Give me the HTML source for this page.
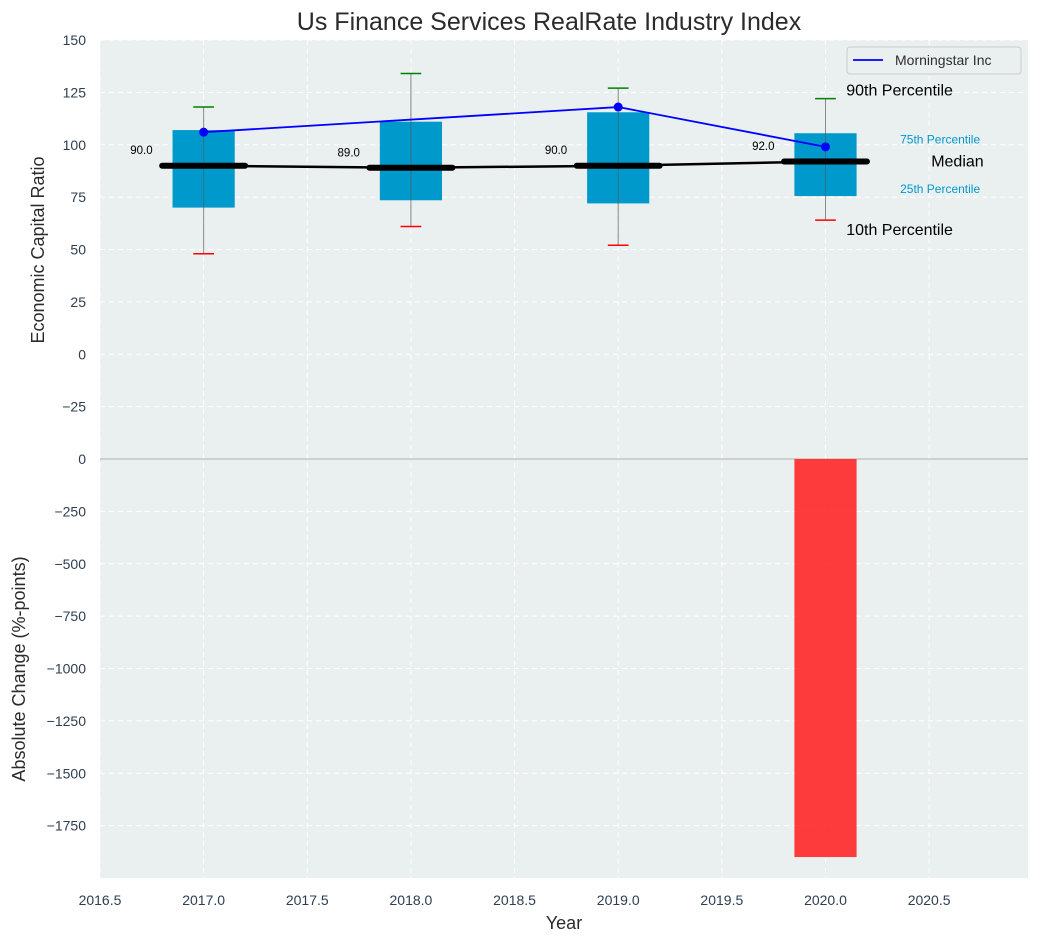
<!DOCTYPE html>
<html><head><meta charset="utf-8"><style>
body{margin:0;background:#fff;}
svg{display:block;font-family:"Liberation Sans","DejaVu Sans",sans-serif;}
</style></head><body>
<svg id="c" width="1039" height="942" xmlns="http://www.w3.org/2000/svg"></svg>
<script>
const years=[2017,2018,2019,2020];
const q25=[70,73.5,72,75.5];
const q75=[107,111,115.5,105.5];
const p10=[48,61,52,64];
const p90=[118,134,127,122];
const medians=[90,89,90,92];
const companyYears=[2017,2019,2020];
const companyVals=[106,118,99];
const changeYears=[2020];
const changeVals=[-1900];
const topTicks=[150,125,100,75,50,25,0,-25];
const botTicks=[0,-250,-500,-750,-1000,-1250,-1500,-1750];
const xTicks=[2016.5,2017,2017.5,2018,2018.5,2019,2019.5,2020,2020.5];

const NS="http://www.w3.org/2000/svg";
const svg=document.getElementById('c');
const L=100,R=1028,T=40,M=459,B=878;
const X=v=>L+(v-2016.5)/(2020.977-2016.5)*(R-L);
const Y1=v=>T+(150-v)/200*(M-T);
const Y2=v=>M+(0-v)/2000*(B-M);
function el(tag,a,p){const e=document.createElementNS(NS,tag);for(const k in a)e.setAttribute(k,a[k]);(p||svg).appendChild(e);return e;}
function txt(s,a){const e=el('text',a);e.textContent=s;return e;}

const bg1=el('rect',{x:L,y:T,width:R-L,height:M-T,fill:'#eaeff0'});

const bg2=el('rect',{x:L,y:M,width:R-L,height:B-M,fill:'#eaeff0'});


xTicks.forEach(v=>{
  el('line',{x1:X(v),x2:X(v),y1:T,y2:B,stroke:'#fff','stroke-dasharray':'5,4','stroke-width':1});
  const t=txt(v.toFixed(1),{x:X(v),y:B+27,'text-anchor':'middle','font-size':14,fill:'#2e3e50'});
  
});
topTicks.forEach(v=>{
  el('line',{x1:L,x2:R,y1:Y1(v),y2:Y1(v),stroke:'#fff','stroke-dasharray':'5,4'});
  const t=txt(v<0?'\u2212'+(-v):String(v),{x:L-14,y:Y1(v)+5,'text-anchor':'end','font-size':14,fill:'#2e3e50'});
  
});
botTicks.forEach(v=>{
  el('line',{x1:L,x2:R,y1:Y2(v),y2:Y2(v),stroke:'#fff','stroke-dasharray':'5,4'});
  const t=txt(v<0?'\u2212'+(-v):String(v),{x:L-14,y:Y2(v)+5,'text-anchor':'end','font-size':14,fill:'#2e3e50'});
  
});
el('line',{x1:L,x2:R,y1:M,y2:M,stroke:'#b0b0b0','stroke-width':1});

years.forEach((yr,i)=>{
  const w=el('line',{x1:X(yr),x2:X(yr),y1:Y1(p90[i]),y2:Y1(p10[i]),stroke:'#888','stroke-width':1});
  
  const b=el('rect',{x:X(yr-0.15),y:Y1(q75[i]),width:X(yr+0.15)-X(yr-0.15),height:Y1(q25[i])-Y1(q75[i]),fill:'#0099cc'});
  
  el('line',{x1:X(yr),x2:X(yr),y1:Y1(q75[i]),y2:Y1(q25[i]),stroke:'#555','stroke-width':1,opacity:0.6});
  const c1=el('line',{x1:X(yr-0.05),x2:X(yr+0.05),y1:Y1(p90[i]),y2:Y1(p90[i]),stroke:'green','stroke-width':1.5});
  
  const c2=el('line',{x1:X(yr-0.05),x2:X(yr+0.05),y1:Y1(p10[i]),y2:Y1(p10[i]),stroke:'red','stroke-width':1.5});
  
});
const mp=el('polyline',{points:years.map((y,i)=>X(y)+','+Y1(medians[i])).join(' '),fill:'none',stroke:'#000','stroke-width':2.5});

years.forEach((yr,i)=>{
  const m=el('line',{x1:X(yr-0.2),x2:X(yr+0.2),y1:Y1(medians[i]),y2:Y1(medians[i]),stroke:'#000','stroke-width':6,'stroke-linecap':'round'});
  
  const t=txt(medians[i].toFixed(1),{x:X(yr-0.3),y:Y1(medians[i]+5.5),'text-anchor':'middle','font-size':11.5,fill:'#000'});
  
});
const cl=el('polyline',{points:companyYears.map((y,i)=>X(y)+','+Y1(companyVals[i])).join(' '),fill:'none',stroke:'blue','stroke-width':1.8});

companyYears.forEach((y,i)=>{
  const p=el('circle',{cx:X(y),cy:Y1(companyVals[i]),r:4.5,fill:'blue'});
  
});
[['90th Percentile',2020.1,123.5,16,'#000'],['75th Percentile',2020.36,100.5,12,'#0099cc'],['Median',2020.51,89.5,16,'#000'],['25th Percentile',2020.36,77,12,'#0099cc'],['10th Percentile',2020.1,57,16,'#000']].forEach(a=>{
  const t=txt(a[0],{x:X(a[1]),y:Y1(a[2]),'font-size':a[3],fill:a[4]});
  
});
changeYears.forEach((y,i)=>{
  const v=changeVals[i];
  const b=el('rect',{x:X(y-0.15),y:Math.min(Y2(0),Y2(v)),width:X(y+0.15)-X(y-0.15),height:Math.abs(Y2(v)-Y2(0)),fill:'#ff2222','fill-opacity':0.88});
  
});
const lg=el('g',{});

el('rect',{x:847,y:47,width:174,height:27,rx:3,fill:'#eaeff0',stroke:'#ccc'},lg);
el('line',{x1:853,x2:883,y1:60,y2:60,stroke:'blue','stroke-width':1.8},lg);
const lt=el('text',{x:895,y:65,'font-size':14,fill:'#2e2e2e'},lg);lt.textContent='Morningstar Inc';
const ti=txt('Us Finance Services RealRate Industry Index',{x:549,y:30,'text-anchor':'middle','font-size':25,fill:'#2b2b2b'});

const xt=txt('Year',{x:564,y:929,'text-anchor':'middle','font-size':18,fill:'#2b2b2b'});

const y1t=txt('Economic Capital Ratio',{x:0,y:0,'text-anchor':'middle','font-size':18,fill:'#2b2b2b',transform:'translate(44,250) rotate(-90)'});

const y2t=txt('Absolute Change (%-points)',{x:0,y:0,'text-anchor':'middle','font-size':18,fill:'#2b2b2b',transform:'translate(25,669) rotate(-90)'});

</script>
</body></html>
